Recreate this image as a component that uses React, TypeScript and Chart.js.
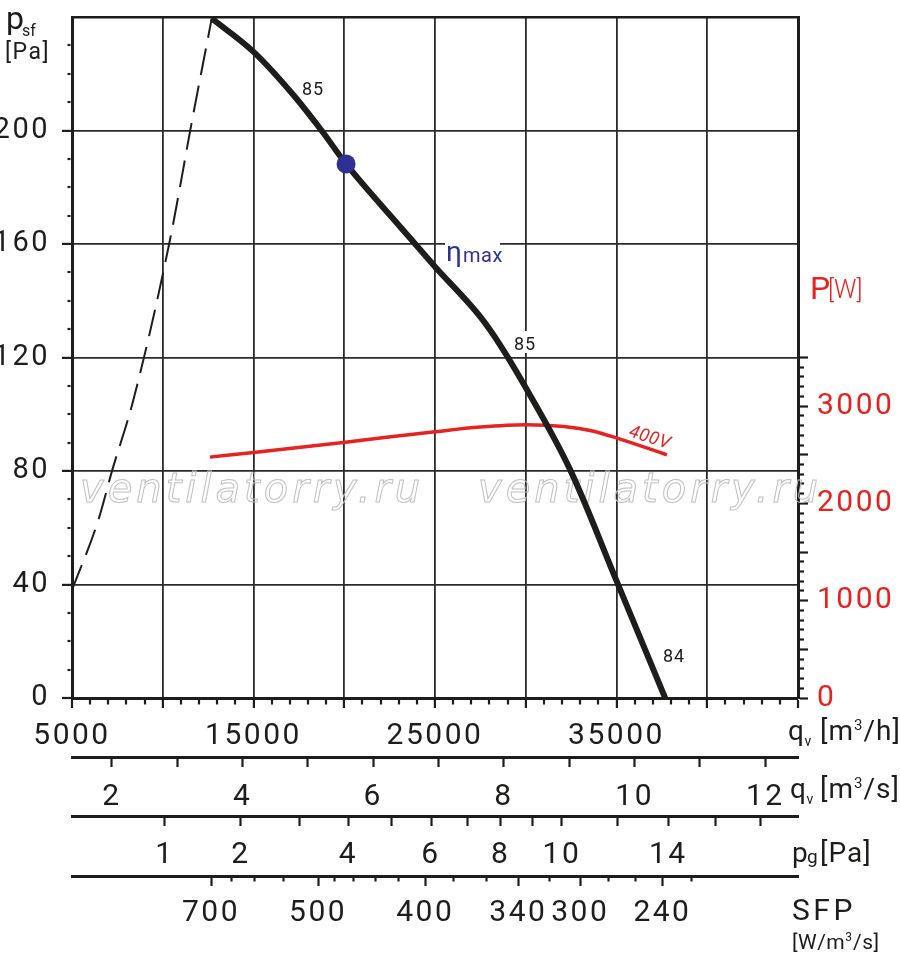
import { useEffect, useRef } from 'react'
import { Chart, registerables } from 'chart.js'
Chart.register(...registerables)

// fan curve p_sf [Pa] over q_v [m3/h]
const CURVE_Q = [12700, 14990, 17200, 18760, 20100, 23080, 25000, 27490, 28590, 29970, 32450, 35020, 37680]
const CURVE_P = [239.5, 227.8, 212.5, 199.9, 188.2, 166.1, 152.0, 134.4, 124.4, 109.7, 80.4, 41.0, 0]
// stall limit, dashed
const STALL_Q = [5000, 6450, 7190, 8380, 10400, 11600, 12700]
const STALL_P = [38, 62.7, 79.7, 105, 161.5, 203, 239.5]
// input power P [W] at 400V
const POWER_Q = [12600, 15000, 19950, 25000, 27500, 30000, 32100, 33550, 35030, 37780]
const POWER_W = [2476, 2524, 2627, 2737, 2785, 2809, 2791, 2750, 2672, 2500]
// eta max point
const ETA_Q = 20100
const ETA_P = 188.2

// axes
const QH_MIN = 5000
const QH_MAX = 45000
const QH_STEP = 1000
const QH_LABELS = [5000, 15000, 25000, 35000]
const P_MAX = 240
const P_STEP = 10
const P_LABELS = [0, 40, 80, 120, 160, 200]
const W_MAX = 7000
const W_TICK_TOP = 3500
const W_STEP = 100
const W_LABELS = [0, 1000, 2000, 3000]
const QS_TICKS = [2, 3, 4, 5, 6, 7, 8, 9, 10, 11, 12]
const QS_LABELS = [2, 4, 6, 8, 10, 12]
const PG_TICKS = [1, 2, 3, 4, 5, 6, 7, 8, 9, 10, 12, 14, 16, 18]
const PG_LABELS = [1, 2, 4, 6, 8, 10, 14]
const PG_Q1 = 10117 // m3/h at p_g = 1 Pa
const SFP_TICKS = [700, 650, 600, 550, 500, 480, 460, 440, 420, 400, 380, 360, 340, 320, 300, 280, 260, 240, 220]
const SFP_Q = [12660, 13770, 15030, 16630, 18560, 19440, 20490, 21700, 22970, 24460, 26000, 27820, 29590, 31300, 33000, 34550, 36040, 37530, 39120]
const SFP_LABELS = [700, 500, 400, 340, 300, 240]
const WATERMARK = 'ventilatorry.ru'

const INK = '#1d1d1b'
const GRID = '#2b2b2b'
const RED = '#e52421'
const NAVY = '#2e3192'
const FONT = 'Roboto'

const range = (a: number, b: number, step: number) => {
  const out: number[] = []
  for (let v = a; v <= b + 1e-9; v += step) out.push(v)
  return out
}
const pts = (xs: number[], ys: number[]) => xs.map((x, i) => ({ x, y: ys[i] }))

function put(c: any, s: string, x: number, y: number, size: number, color: string, sp = 0, pre = '') {
  c.font = `${pre} ${size}px ${FONT}`.trim()
  c.letterSpacing = sp + 'px'
  c.fillStyle = color
  c.textAlign = 'left'
  c.textBaseline = 'alphabetic'
  c.fillText(s, x, y)
  return x + c.measureText(s).width
}

function unitRow(c: any, x: number, y: number, sym: string, sub: string, pre: string, post: string) {
  const e = put(c, sym, x, y, 28, INK)
  put(c, sub, e + 0.5, y + 6, 14, INK)
  let e2 = put(c, pre, 820, y, 28, INK, 1)
  e2 = put(c, '3', e2, y - 10, 15, INK)
  put(c, post, e2 + 1, y, 28, INK, 1)
}

const decor = {
  id: 'decor',
  beforeDraw(ch: any) {
    ch.ctx.letterSpacing = '2.5px'
  },
  beforeDatasetsDraw(ch: any) {
    const c = ch.ctx
    c.save()
    c.font = 'italic 40px "DejaVu Sans"'
    c.letterSpacing = '4px'
    c.strokeStyle = '#c0c0c0'
    c.lineWidth = 1
    c.textAlign = 'left'
    c.textBaseline = 'alphabetic'
    c.strokeText(WATERMARK, 80, 502)
    c.strokeText(WATERMARK, 478, 502)
    c.restore()
  },
  afterDraw(ch: any) {
    const c = ch.ctx
    c.save()
    c.fillStyle = '#fff'
    c.fillRect(445, 238, 55, 12)
    c.fillRect(512, 331, 24, 22)
    put(c, 'η', 446, 261, 28, NAVY)
    put(c, 'max', 463, 262, 20, NAVY, 0.5)
    put(c, '85', 302, 95, 18, INK, 1)
    put(c, '85', 514, 350, 18, INK, 1)
    put(c, '84', 663, 662, 18, INK, 1)
    c.save()
    c.translate(628, 436)
    c.rotate((18 * Math.PI) / 180)
    put(c, '400V', 0, 0, 18, RED, 0.5, 'italic')
    c.restore()

    put(c, 'p', 6, 29, 32, INK)
    put(c, 'sf', 22, 36, 16, INK)
    put(c, '[Pa]', 5, 59, 23, INK, 1.5)
    put(c, 'P', 810, 299, 32, RED)
    put(c, '[W]', 828, 298, 25, RED, 0, '300')

    unitRow(c, 788, 740, 'q', 'v', '[m', '/h]')
    unitRow(c, 790, 798, 'q', 'v', '[m', '/s]')
    put(c, 'p', 792, 862, 28, INK)
    put(c, 'g', 807, 863, 19, INK)
    put(c, '[Pa]', 820, 862, 28, INK, 1)
    put(c, 'SFP', 792, 920, 30, INK, 3.5)
    let e = put(c, '[W/m', 792, 949, 21, INK, 0.5)
    e = put(c, '3', e, 941, 12, INK)
    put(c, '/s]', e + 1, 949, 21, INK, 0.5)
    c.restore()
  },
}

const noPad = (s: any) => {
  s.paddingTop = 0
  s.paddingBottom = 0
  s.paddingLeft = 0
  s.paddingRight = 0
}
const tickFont = { family: FONT, size: 30, lineHeight: 1 }
const auxGrid = (isMajor: (c: any) => boolean) => ({
  drawOnChartArea: false,
  tickLength: 10,
  tickColor: INK,
  tickWidth: 2.2,
  tickBorderDash: (c: any) => (isMajor(c) ? [] : [3.5, 100]),
})
const auxBorder = { display: true, color: INK, width: 3 }

export default function App() {
  const ref = useRef<HTMLCanvasElement>(null)

  useEffect(() => {
    if (!ref.current) return
    Chart.defaults.font.family = FONT
    const chart = new Chart(ref.current, {
      type: 'line',
      data: {
        datasets: [
          { label: 'ηmax', data: [{ x: ETA_Q, y: ETA_P }], showLine: false, pointRadius: 9.5, pointBackgroundColor: NAVY, pointBorderWidth: 0, xAxisID: 'x', yAxisID: 'y' },
          { label: 'psf', data: pts(CURVE_Q, CURVE_P), borderColor: INK, borderWidth: 6, pointRadius: 0, cubicInterpolationMode: 'monotone', xAxisID: 'x', yAxisID: 'y' },
          { label: 'P', data: pts(POWER_Q, POWER_W), borderColor: RED, borderWidth: 3.5, pointRadius: 0, cubicInterpolationMode: 'monotone', xAxisID: 'x', yAxisID: 'yP' },
          { label: 'stall', data: pts(STALL_Q, STALL_P), borderColor: INK, borderWidth: 2, borderDash: [27, 11], pointRadius: 0, cubicInterpolationMode: 'monotone', xAxisID: 'x', yAxisID: 'y' },
        ],
      } as any,
      options: {
        responsive: false,
        animation: false,
        events: [],
        layout: { padding: { top: 17, left: 0, right: 0, bottom: 0 } },
        plugins: { legend: { display: false }, tooltip: { enabled: false } },
        scales: {
          x: {
            type: 'linear', position: 'bottom', weight: 0, min: QH_MIN, max: QH_MAX,
            afterBuildTicks: (s: any) => { s.ticks = range(QH_MIN, QH_MAX, QH_STEP).map(value => ({ value })) },
            afterFit: (s: any) => { s.height = 59; noPad(s) },
            grid: {
              color: GRID,
              lineWidth: (c: any) => (c.tick.value % 5000 === 0 && c.tick.value > QH_MIN && c.tick.value < QH_MAX ? 1.8 : 0),
              tickLength: 10, tickColor: INK, tickWidth: 2.2,
              tickBorderDash: (c: any) => (c.tick.value % 5000 === 0 ? [] : [4.5, 100]),
            },
            border: { display: true, color: INK, width: 3 },
            ticks: { autoSkip: false, maxRotation: 0, padding: 13, color: INK, font: tickFont, callback: (v: any) => (QH_LABELS.includes(Number(v)) ? String(v) : '') },
          },
          qs: {
            type: 'linear', position: 'bottom', weight: 1, min: QH_MIN / 3600, max: QH_MAX / 3600,
            afterBuildTicks: (s: any) => { s.ticks = QS_TICKS.map(value => ({ value })) },
            afterFit: (s: any) => { s.height = 59; noPad(s) },
            grid: auxGrid(() => true),
            border: auxBorder,
            ticks: { autoSkip: false, maxRotation: 0, padding: 15, color: INK, font: tickFont, callback: (v: any) => (QS_LABELS.includes(Number(v)) ? String(v) : '') },
          },
          pg: {
            type: 'linear', position: 'bottom', weight: 2, min: QH_MIN, max: QH_MAX,
            afterBuildTicks: (s: any) => { s.ticks = PG_TICKS.map(p => ({ value: PG_Q1 * Math.sqrt(p) })) },
            afterFit: (s: any) => { s.height = 60; noPad(s) },
            grid: auxGrid(() => true),
            border: auxBorder,
            ticks: { autoSkip: false, maxRotation: 0, padding: 14, color: INK, font: tickFont, callback: (_v: any, i: number) => (PG_LABELS.includes(PG_TICKS[i]) ? String(PG_TICKS[i]) : '') },
          },
          sfp: {
            type: 'linear', position: 'bottom', weight: 3, min: QH_MIN, max: QH_MAX,
            afterBuildTicks: (s: any) => { s.ticks = SFP_Q.map(value => ({ value })) },
            afterFit: (s: any) => { s.height = 94; noPad(s) },
            grid: auxGrid((c: any) => SFP_LABELS.includes(SFP_TICKS[c.index])),
            border: auxBorder,
            ticks: { autoSkip: false, maxRotation: 0, padding: 12, color: INK, font: tickFont, callback: (_v: any, i: number) => (SFP_LABELS.includes(SFP_TICKS[i]) ? String(SFP_TICKS[i]) : '') },
          },
          y: {
            type: 'linear', position: 'left', min: 0, max: P_MAX,
            afterBuildTicks: (s: any) => { s.ticks = range(0, P_MAX, P_STEP).map(value => ({ value })) },
            afterFit: (s: any) => { s.width = 72; noPad(s) },
            grid: {
              color: (c: any) => (c.tick.value === P_MAX ? INK : GRID),
              lineWidth: (c: any) => (c.tick.value === P_MAX ? 2.5 : c.tick.value % 40 === 0 && c.tick.value > 0 ? 1.8 : 0),
              tickLength: 10,
              tickColor: (c: any) => (c.tick.value === P_MAX ? 'rgba(0,0,0,0)' : INK),
              tickWidth: 2.2,
              tickBorderDash: (c: any) => (c.tick.value % 40 === 0 ? [] : [3, 100]),
              tickBorderDashOffset: (c: any) => (c.tick.value % 40 === 0 ? 0 : -5.5),
            },
            border: { display: true, color: INK, width: 3 },
            ticks: { autoSkip: false, padding: 12, color: INK, font: { family: FONT, size: 29, lineHeight: 1 }, callback: (v: any) => (P_LABELS.includes(Number(v)) ? String(v) : '') },
          },
          yP: {
            type: 'linear', position: 'right', min: 0, max: W_MAX,
            afterBuildTicks: (s: any) => { s.ticks = range(0, W_TICK_TOP, W_STEP).map(value => ({ value })) },
            afterFit: (s: any) => { s.width = 102; noPad(s) },
            grid: {
              drawOnChartArea: false,
              tickLength: 10, tickColor: INK, tickWidth: 2.2,
              tickBorderDash: (c: any) => (c.tick.value % 500 === 0 ? [] : [4, 100]),
            },
            border: { display: true, color: INK, width: 3 },
            ticks: { autoSkip: false, padding: 9, color: RED, font: tickFont, callback: (v: any) => (W_LABELS.includes(Number(v)) ? String(v) : '') },
          },
        },
      } as any,
      plugins: [decor],
    })
    return () => chart.destroy()
  }, [])

  return (
    <div style={{ position: 'absolute', left: 0, top: 0, width: 900, height: 970, background: '#fff' }}>
      <canvas ref={ref} width={900} height={970} style={{ display: 'block' }} />
    </div>
  )
}
